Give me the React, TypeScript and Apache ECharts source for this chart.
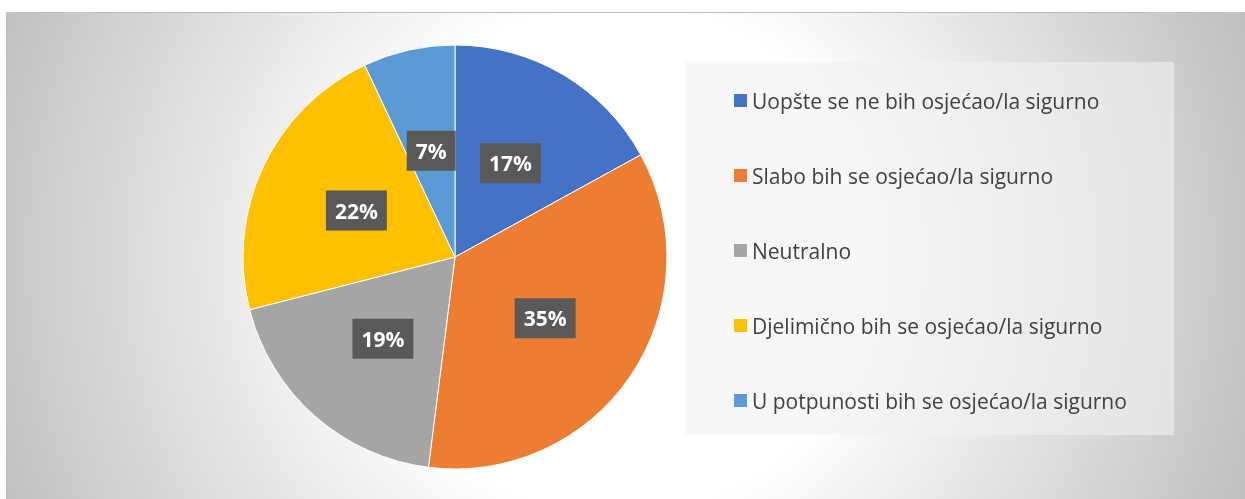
import React, { useEffect, useRef } from "react";
import * as echarts from "echarts";

const categories = [
  "Uopšte se ne bih osjećao/la sigurno",
  "Slabo bih se osjećao/la sigurno",
  "Neutralno",
  "Djelimično bih se osjećao/la sigurno",
  "U potpunosti bih se osjećao/la sigurno",
];
const values = [17, 35, 19, 22, 7];
const colors = ["#4472C4", "#ED7D31", "#A5A5A5", "#FFC000", "#5B9BD5"];

export default function App() {
  const ref = useRef<HTMLDivElement>(null);
  useEffect(() => {
    if (!ref.current) return;
    const chart = echarts.init(ref.current, undefined, { renderer: "svg" });
    chart.setOption({
      animation: false,
      graphic: [
        {
          type: "rect",
          z: -10,
          shape: { x: 6.5, y: 12.5, width: 1240, height: 488 },
          style: {
            fill: {
              type: "radial",
              x: 620,
              y: 258,
              r: 700,
              global: true,
              colorStops: [
                { offset: 0, color: "#ffffff" },
                { offset: 0.36, color: "#ffffff" },
                { offset: 0.88, color: "#c8c8c8" },
                { offset: 1, color: "#bbbbbb" },
              ],
            },
            stroke: "#bdbdbd",
            lineWidth: 1,
          },
        },
        {
          type: "rect",
          z: -5,
          shape: { x: 685, y: 62, width: 489, height: 373 },
          style: { fill: "rgba(242,242,242,0.6)" },
        },
      ],
      legend: {
        orient: "vertical",
        left: 729,
        top: 85,
        itemWidth: 13,
        itemHeight: 13,
        itemGap: 54,
        icon: "rect",
        itemStyle: { borderWidth: 0 },
        data: categories,
        textStyle: {
          fontFamily: "Open Sans",
          fontSize: 21,
          lineHeight: 20,
          color: "#404040",
        },
      },
      series: [
        {
          type: "pie",
          center: [455, 257],
          radius: 212,
          startAngle: 90,
          clockwise: true,
          data: categories.map((name, i) => ({
            name,
            value: values[i],
            itemStyle: { color: colors[i] },
          })),
          itemStyle: { borderColor: "#ffffff", borderWidth: 1 },
          label: {
            show: true,
            position: "inside",
            formatter: "{c}%",
            color: "#ffffff",
            fontFamily: "Open Sans",
            fontWeight: "bold",
            fontSize: 21,
            backgroundColor: "#595959",
            padding: [10, 9, 9, 9],
          },
          labelLine: { show: false },
          emphasis: { disabled: true },
        },
      ],
    });
    return () => chart.dispose();
  }, []);
  return (
    <div
      ref={ref}
      style={{ position: "fixed", left: 0, top: 0, width: 1245, height: 499 }}
    />
  );
}
